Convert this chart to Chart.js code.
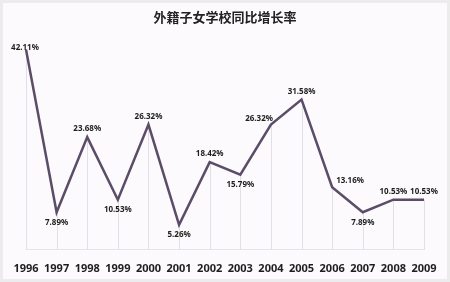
<!DOCTYPE html>
<html lang="zh">
  <head>
    <meta charset="UTF-8" />
    <script src="https://cdn.jsdelivr.net/npm/chart.js"></script>
    <title>外籍子女学校同比增长率</title>
    <style>
      body { margin: 0; background: #ececec; }
      #box { position: relative; width: 450px; height: 282px; background: #fcfafc; box-sizing: border-box; border: 3px solid #ececec; }
    </style>
  </head>
  <body>
    <div id="box"><canvas id="grafico"></canvas></div>
  </body>
  <script>
    // dados do grafico
    const anos = ["1996", "1997", "1998", "1999", "2000", "2001", "2002", "2003", "2004", "2005", "2006", "2007", "2008", "2009"];
    const taxas = [42.11, 7.89, 23.68, 10.53, 26.32, 5.26, 18.42, 15.79, 26.32, 31.58, 13.16, 7.89, 10.53, 10.53];

    // onde fica cada rotulo em relacao ao ponto
    const posRotulo = ["top", "below", "above", "below", "above", "below", "above", "below", "left", "above", "right", "below", "above", "above"];

    const fonteRotulo = 'bold 8px "Noto Sans", sans-serif';

    // linhas verticais do ponto ate a base + rotulos de valor
    const rotulos = {
      id: "rotulos",
      beforeDatasetsDraw(chart) {
        const c = chart.ctx;
        const meta = chart.getDatasetMeta(0);
        const base = chart.chartArea.bottom;
        c.save();
        c.strokeStyle = "#e2e0e4";
        c.lineWidth = 1;
        meta.data.forEach((p) => {
          c.beginPath();
          c.moveTo(Math.round(p.x) + 0.5, p.y);
          c.lineTo(Math.round(p.x) + 0.5, base);
          c.stroke();
        });
        c.restore();
      },
      afterDatasetsDraw(chart) {
        const c = chart.ctx;
        const meta = chart.getDatasetMeta(0);
        c.save();
        c.font = fonteRotulo;
        c.fillStyle = "#1e1e1e";
        c.textBaseline = "middle";
        meta.data.forEach((p, i) => {
          const txt = taxas[i].toFixed(2) + "%";
          const pos = posRotulo[i];
          let x = p.x, y = p.y;
          c.textAlign = "center";
          if (pos === "top") { x -= 1; y -= 2; }
          if (pos === "above") y -= 8;
          if (pos === "below") y += 10;
          if (pos === "left") { c.textAlign = "right"; x += 2; y -= 6; }
          if (pos === "right") { c.textAlign = "left"; x += 4; y -= 6; }
          c.fillText(txt, x, y);
        });
        c.restore();
      },
    };

    new Chart(document.getElementById("grafico"), {
      type: "line",
      data: {
        labels: anos,
        datasets: [
          {
            data: taxas,
            borderColor: "#5b4c68",
            borderWidth: 2.5,
            pointRadius: 0,
            tension: 0,
            fill: false,
          },
        ],
      },
      options: {
        responsive: true,
        maintainAspectRatio: false,
        animation: false,
        layout: { padding: { left: 23, right: 23, top: 2, bottom: 0 } },
        plugins: {
          legend: { display: false },
          tooltip: { enabled: false },
          title: {
            display: true,
            text: "外籍子女学校同比增长率",
            color: "#222",
            font: { family: '"Noto Sans CJK SC", sans-serif', size: 13, weight: "bold" },
            padding: { top: 4, bottom: 12 },
          },
        },
        scales: {
          x: {
            offset: false,
            grid: { display: false },
            border: { color: "#e6e4e8" },
            ticks: {
              color: "#1e1e1e",
              padding: 4,
              maxRotation: 0,
              autoSkip: false,
              font: { family: '"Noto Sans", sans-serif', size: 11, weight: "bold" },
            },
          },
          y: {
            display: false,
            min: 0,
            max: 44.8,
          },
        },
      },
      plugins: [rotulos],
    });
  </script>
</html>
